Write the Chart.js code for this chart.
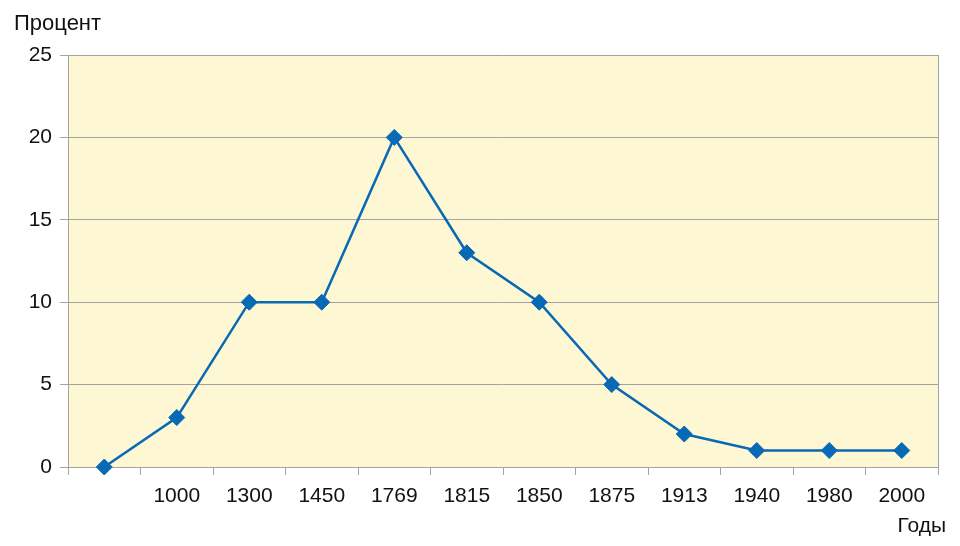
<!DOCTYPE html>
<html>
<head>
<meta charset="utf-8">
<script src="https://cdn.jsdelivr.net/npm/chart.js@4"></script>
<style>
  html, body { margin: 0; padding: 0; background: #ffffff; }
  canvas { display: block; }
</style>
</head>
<body>
<canvas id="graficaProcent" width="960" height="546"></canvas>
<script>
const years = ['', '1000', '1300', '1450', '1769', '1815', '1850', '1875', '1913', '1940', '1980', '2000'];
const percent = [0, 3, 10, 10, 20, 13, 10, 5, 2, 1, 1, 1];
const yTicks = [0, 5, 10, 15, 20, 25];

const gray = '#a3a3a3';
const blue = '#0869b4';
const fontFamily = '"Liberation Sans", Arial, sans-serif';

// yellow plot area + axis captions
const plotDecor = {
    id: 'plotDecor',
    beforeDraw(chart) {
        const { ctx, chartArea } = chart;
        ctx.save();
        ctx.fillStyle = '#fdf7d3';
        ctx.fillRect(chartArea.left, chartArea.top, chartArea.right - chartArea.left, chartArea.bottom - chartArea.top);
        ctx.restore();
    },
    afterDraw(chart) {
        const { ctx, chartArea } = chart;
        ctx.save();
        ctx.fillStyle = '#111111';
        ctx.textBaseline = 'alphabetic';
        ctx.textAlign = 'left';
        ctx.font = '22px ' + fontFamily;
        ctx.fillText('Процент', 14, 30);
        ctx.textAlign = 'right';
        ctx.font = '21px ' + fontFamily;
        ctx.fillText('Годы', chartArea.right + 8, 532);
        ctx.restore();
    }
};

const ctxProcent = document.getElementById('graficaProcent');
if (ctxProcent) {
    new Chart(ctxProcent, {
        type: 'line',
        data: {
            labels: years,
            datasets: [{
                label: 'Процент',
                data: percent,
                borderColor: blue,
                backgroundColor: blue,
                borderWidth: 2.5,
                pointStyle: 'rectRot',
                pointRadius: 8,
                pointBorderWidth: 1,
                pointBackgroundColor: blue,
                pointBorderColor: blue,
                tension: 0,
                fill: false,
                clip: false
            }]
        },
        options: {
            responsive: false,
            animation: false,
            layout: {
                padding: { top: 55, left: 0, right: 22, bottom: 0 }
            },
            scales: {
                x: {
                    offset: true,
                    afterFit(scale) { scale.height = 79; },
                    grid: {
                        offset: true,
                        drawOnChartArea: true,
                        color: (c) => c.tick ? 'rgba(0,0,0,0)' : gray,
                        tickColor: gray,
                        tickLength: 8,
                        lineWidth: 1
                    },
                    border: { color: gray, width: 1 },
                    ticks: {
                        color: '#111111',
                        font: { family: fontFamily, size: 21 },
                        padding: 9,
                        maxRotation: 0,
                        autoSkip: false
                    }
                },
                y: {
                    min: 0,
                    max: 25,
                    afterFit(scale) { scale.width = 68; },
                    afterBuildTicks(scale) { scale.ticks = yTicks.map(v => ({ value: v })); },
                    grid: {
                        color: gray,
                        tickColor: gray,
                        tickLength: 8,
                        lineWidth: 1
                    },
                    border: { color: gray, width: 1 },
                    ticks: {
                        color: '#111111',
                        font: { family: fontFamily, size: 21 },
                        padding: 8
                    }
                }
            },
            plugins: {
                legend: { display: false },
                title: { display: false },
                tooltip: { enabled: false }
            }
        },
        plugins: [plotDecor]
    });
}
</script>
</body>
</html>
